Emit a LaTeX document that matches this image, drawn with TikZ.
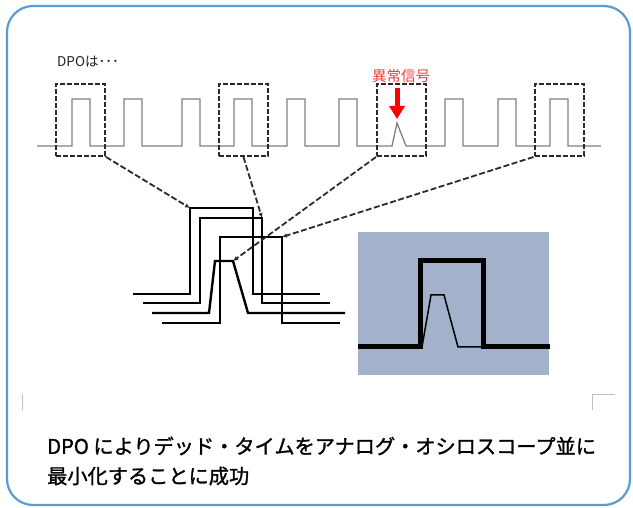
\documentclass[tikz,border=0pt]{standalone}
\usepackage{fontspec}
\setmainfont{Noto Sans CJK JP}
\newfontfamily\jpfont{Noto Sans CJK JP}
\newfontfamily\capfont[FakeBold=1.3]{Noto Sans CJK JP}
\usetikzlibrary{arrows.meta}
\definecolor{frameblue}{HTML}{5B9BD5}
\definecolor{panelblue}{HTML}{A3B2CA}
\definecolor{wavegray}{HTML}{808080}
\definecolor{alertred}{HTML}{F23C3C}
\definecolor{dashgray}{HTML}{2A2A2A}
\definecolor{textdark}{HTML}{222222}
\tikzset{
  framebox/.style={draw=frameblue, line width=2.2pt, rounded corners=26pt},
  pulsetrain/.style={draw=wavegray, line width=1.3pt, line join=miter},
  selbox/.style={draw=dashgray, line width=2pt, dash pattern=on 5pt off 2pt, inner sep=0pt, minimum width=49pt, minimum height=72pt},
  linkarrow/.style={draw=dashgray, line width=1.8pt, dash pattern=on 6pt off 2.5pt, -{Latex[length=5pt,width=4.5pt]}},
  overlay/.style={draw=black, line width=2.4pt, line join=miter},
  bigwave/.style={draw=black, line width=5pt, line join=miter},
  smallwave/.style={draw=black, line width=1.5pt, line join=miter},
  marker/.style={draw=black!25, line width=1pt},
  caption/.style={anchor=west, inner sep=0pt, font=\capfont\fontsize{20.2pt}{24pt}\selectfont, text=black},
}
\begin{document}
\begin{tikzpicture}[x=1pt,y=-1pt]
\useasboundingbox (0,0) rectangle (633,508);
\path[framebox] (7,6) rectangle (630,505);

% top label
\node[anchor=west, inner sep=0pt, font=\jpfont\fontsize{13.5pt}{16pt}\selectfont, text=textdark] (dpo) at (57,62) {DPOは･･･};

% pulse train
\draw[pulsetrain] (37,146)
  foreach \r in {72,124,182,234,287,339} { -- (\r,146) -- (\r,99) -- ({\r+18},99) -- ({\r+18},146) }
  -- (392,146) -- (397,123) -- (406,146)
  foreach \r in {445,498,550} { -- (\r,146) -- (\r,99) -- ({\r+18},99) -- ({\r+18},146) }
  -- (601,146);

% selection boxes
\node[selbox] (box1) at (80.5,120) {};
\node[selbox] (box2) at (243.5,120) {};
\node[selbox] (box3) at (401.5,120) {};
\node[selbox] (box4) at (559,120) {};

% anomaly label and arrow
\node[font=\jpfont\fontsize{14.5pt}{17pt}\selectfont, text=alertred, inner sep=0pt] (anom) at (401,76) {異常信号};
\coordinate (redtop) at (397,88);
\coordinate (redtip) at (397,119);
\draw[red, line width=5pt, -{Triangle[length=13pt,width=15pt]}] (redtop) -- (redtip);

% overlay waveforms
\draw[overlay] (133,294) -- (190,294) -- (190,208) -- (253,208) -- (253,294) -- (320,294);
\draw[overlay] (143,303) -- (200,303) -- (200,218) -- (262,218) -- (262,303) -- (330,303);
\draw[overlay] (152,313) -- (209,313) -- (215,261) -- (233,261) -- (248,313) -- (345,313);
\draw[overlay] (162,323) -- (220,323) -- (220,237) -- (282,237) -- (282,323) -- (340,323);

\coordinate (w1) at (190,208);
\coordinate (w2) at (262,218);
\coordinate (w3) at (233,261);
\coordinate (w4) at (282,237);

% connectors
\draw[linkarrow] (box1.south east) -- (w1);
\draw[linkarrow] (box2.south) -- (w2);
\draw[linkarrow] (box3.south west) -- (w3);
\draw[linkarrow] (box4.south west) -- (w4);

% DPO display panel
\node[fill=panelblue, inner sep=0pt, minimum width=191pt, minimum height=143pt] (panel) at (453.5,303.5) {};
\draw[bigwave] (358,347) -- (420,347) -- (420,261) -- (483,261) -- (483,347) -- (550,347);
\draw[smallwave] (422,347) -- (431,295) -- (444,295) -- (458,347) -- (483,347);

% corner marks
\draw[marker] (22,394) -- (22,410);
\draw[marker] (592,410) -- (592,394) -- (615,394);

% caption
\node[caption] (cap1) at (47,446) {DPO によりデッド・タイムをアナログ・オシロスコープ並に};
\node[caption] (cap2) at (47,476) {最小化することに成功};
\end{tikzpicture}
\end{document}
